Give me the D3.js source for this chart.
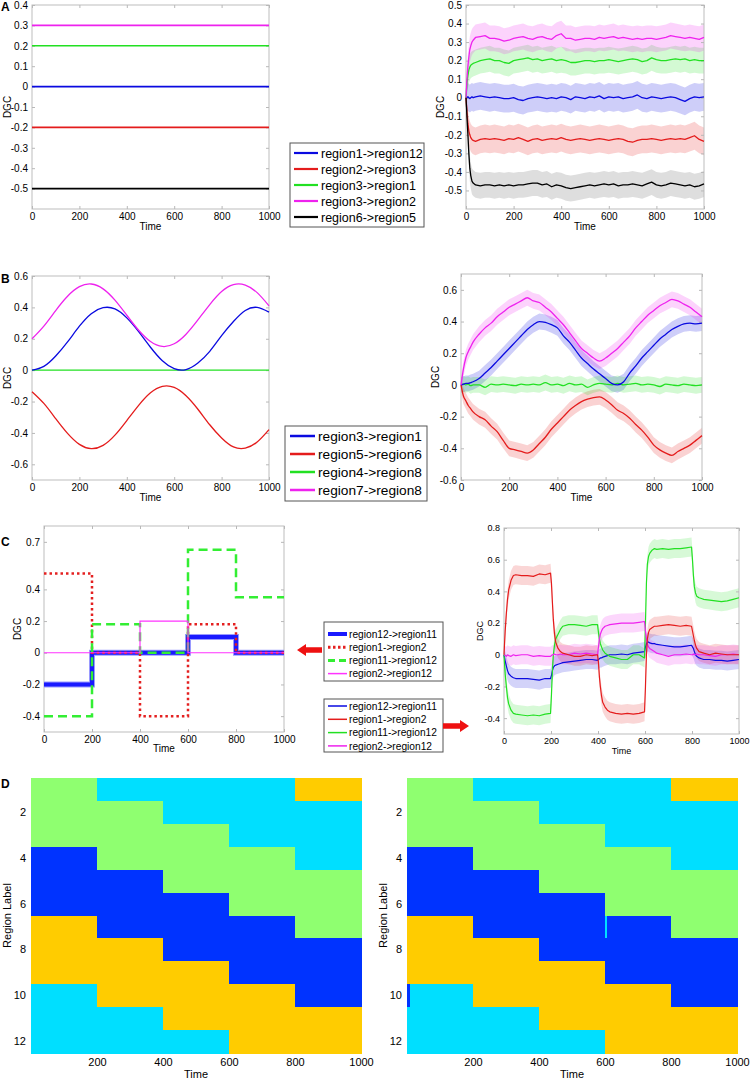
<!DOCTYPE html>
<html><head><meta charset="utf-8">
<script src="https://cdn.jsdelivr.net/npm/d3@7"></script>
<style>
body{margin:0;background:#fff;}
svg{display:block;font-family:"Liberation Sans",Arial,sans-serif;}
</style></head>
<body><svg id="c" width="750" height="1080"></svg>
<script>
// ---------------- DATA ----------------
const timeTicks = [0,200,400,600,800,1000];
const regionTicks = [2,4,6,8,10,12];
const heatTimeTicks = [200,400,600,800,1000];

// Panel A
const aNames = ["region1->region12","region2->region3","region3->region1","region3->region2","region6->region5"];
const aTrue = [0,-0.2,0.2,0.3,-0.5];
const aLeftTicks = [0.4,0.3,0.2,0.1,0,-0.1,-0.2,-0.3,-0.4,-0.5];
const aRightTicks = [0.5,0.4,0.3,0.2,0.1,0,-0.1,-0.2,-0.3,-0.4,-0.5];
const aTime = [0,4,8,12,16,20,25,30,40,60,80,100,120,140,160,180,200,220,240,260,280,300,320,340,360,380,400,420,440,460,480,500,520,540,560,580,600,620,640,660,680,700,720,740,760,780,800,820,840,860,880,900,920,940,960,980,1000];
const aEstBlue = [0,0,0.005,0,-0.005,0,0.005,0,0.005,0.01,0.005,0,0.005,0,-0.005,-0.005,0,-0.01,-0.015,-0.005,0,0.005,0,-0.005,0,-0.005,0.005,0,-0.01,0.005,0,-0.005,0.005,0,0.01,-0.005,0.005,0,0.005,-0.005,0,0.005,0.015,0,-0.005,0.005,0,-0.005,0,0.005,0,-0.01,-0.02,-0.005,0.005,0,0.005];
const aEstRed = [0,-0.08,-0.14,-0.18,-0.2,-0.215,-0.225,-0.23,-0.235,-0.225,-0.22,-0.225,-0.22,-0.225,-0.23,-0.22,-0.225,-0.215,-0.225,-0.235,-0.225,-0.22,-0.23,-0.225,-0.22,-0.225,-0.215,-0.225,-0.23,-0.225,-0.22,-0.225,-0.23,-0.225,-0.22,-0.225,-0.23,-0.225,-0.22,-0.225,-0.235,-0.24,-0.23,-0.225,-0.225,-0.22,-0.225,-0.23,-0.225,-0.22,-0.225,-0.22,-0.225,-0.215,-0.205,-0.225,-0.235];
const aEstGreen = [0,0.08,0.12,0.15,0.165,0.175,0.18,0.185,0.19,0.2,0.205,0.21,0.2,0.2,0.19,0.185,0.2,0.205,0.21,0.215,0.205,0.21,0.2,0.205,0.21,0.2,0.205,0.2,0.19,0.19,0.195,0.2,0.2,0.195,0.2,0.2,0.205,0.2,0.195,0.2,0.205,0.21,0.205,0.195,0.2,0.215,0.205,0.2,0.2,0.205,0.21,0.205,0.21,0.2,0.205,0.2,0.2];
const aEstMagenta = [0,0.1,0.17,0.22,0.26,0.28,0.3,0.31,0.325,0.33,0.335,0.32,0.32,0.315,0.305,0.31,0.32,0.325,0.33,0.32,0.315,0.325,0.33,0.32,0.315,0.335,0.345,0.32,0.32,0.31,0.315,0.32,0.32,0.315,0.325,0.32,0.325,0.33,0.32,0.325,0.32,0.315,0.32,0.315,0.32,0.32,0.315,0.32,0.325,0.335,0.33,0.325,0.32,0.325,0.32,0.315,0.325];
const aEstBlack = [0,-0.1,-0.2,-0.3,-0.38,-0.42,-0.45,-0.46,-0.47,-0.475,-0.47,-0.47,-0.475,-0.47,-0.475,-0.47,-0.475,-0.47,-0.47,-0.465,-0.46,-0.46,-0.47,-0.465,-0.48,-0.47,-0.475,-0.485,-0.49,-0.485,-0.48,-0.475,-0.47,-0.475,-0.47,-0.465,-0.47,-0.465,-0.475,-0.47,-0.47,-0.465,-0.47,-0.475,-0.465,-0.455,-0.47,-0.475,-0.47,-0.46,-0.465,-0.47,-0.475,-0.47,-0.48,-0.475,-0.465];
const aSpread = [0.075,0.075,0.07,0.07,0.07];

// Panel B
const bNames = ["region3->region1","region5->region6","region4->region8","region7->region8"];
const bTicks = [0.6,0.4,0.2,0,-0.2,-0.4,-0.6];
const bTrueTime = [0,50,100,150,200,250,300,350,400,450,500,550,600,650,700,750,800,850,900,950,1000];
const bTrueBlue = [0,0.024,0.09,0.18,0.28,0.36,0.398,0.39,0.333,0.245,0.146,0.06,0.01,0.004,0.046,0.12,0.22,0.31,0.38,0.40,0.37];
const bTrueRed = [-0.137,-0.212,-0.309,-0.403,-0.473,-0.5,-0.479,-0.414,-0.321,-0.224,-0.144,-0.103,-0.11,-0.163,-0.249,-0.348,-0.432,-0.489,-0.497,-0.458,-0.379];
const bTrueGreen = [0,0,0,0,0,0,0,0,0,0,0,0,0,0,0,0,0,0,0,0,0];
const bTrueMagenta = [0.2,0.281,0.38,0.471,0.532,0.549,0.518,0.446,0.35,0.254,0.182,0.151,0.168,0.229,0.32,0.418,0.501,0.545,0.542,0.494,0.41];
const bTime = [0,10,20,30,40,50,75,100,125,150,175,200,225,250,275,300,325,350,375,400,425,450,475,500,525,550,575,600,625,650,675,700,725,750,775,800,825,850,875,900,925,950,975,1000];
const bEstBlue = [0,0.005,0.01,0.01,0.015,0.02,0.04,0.075,0.11,0.15,0.19,0.23,0.27,0.31,0.35,0.38,0.40,0.395,0.38,0.36,0.31,0.27,0.22,0.17,0.135,0.10,0.07,0.04,0.01,0.0,0.02,0.075,0.12,0.17,0.21,0.25,0.29,0.32,0.35,0.37,0.385,0.39,0.385,0.39];
const bEstRed = [0,-0.07,-0.1,-0.13,-0.15,-0.17,-0.2,-0.22,-0.26,-0.295,-0.35,-0.4,-0.41,-0.42,-0.43,-0.41,-0.37,-0.33,-0.28,-0.24,-0.2,-0.16,-0.13,-0.105,-0.09,-0.08,-0.075,-0.095,-0.125,-0.16,-0.18,-0.21,-0.25,-0.285,-0.33,-0.38,-0.41,-0.43,-0.445,-0.42,-0.4,-0.38,-0.35,-0.32];
const bEstGreen = [0,0.005,0,0.005,-0.005,0,0,-0.015,0.005,0,0.005,0,-0.005,0.005,0,0.005,0,0.015,0,0.005,-0.005,0.01,0,0.005,-0.015,0,0.01,0.005,0,0.01,0,0.005,0.01,0,0.005,0,-0.01,0.005,0,-0.005,0.005,0,-0.005,0];
const bEstMagenta = [0,0.1,0.17,0.21,0.24,0.27,0.32,0.36,0.39,0.43,0.46,0.49,0.51,0.53,0.55,0.53,0.52,0.49,0.46,0.42,0.38,0.33,0.28,0.23,0.2,0.17,0.15,0.17,0.2,0.23,0.27,0.31,0.36,0.40,0.44,0.47,0.50,0.52,0.54,0.53,0.51,0.49,0.46,0.43];
const bSpread = [0.05,0.05,0.05,0.05];

// Panel C
const cNames = ["region12->region11","region1->region2","region11->region12","region2->region12"];
const cLeftTicks = [0.7,0.4,0.2,0,-0.2,-0.4];
const cRightTicks = [0.8,0.6,0.4,0.2,0,-0.2,-0.4];
const cStepTime = [0,200,400,600,800,1000];
const cTrueBlue = [-0.2,0,0,0.1,0,0];
const cTrueRed = [0.5,0,-0.4,0.18,0,0];
const cTrueGreen = [-0.4,0.18,0,0.65,0.35,0.35];
const cTrueMagenta = [0,0,0.2,0,0,0];
const cTime = [0,5,10,15,20,30,40,50,75,100,125,150,175,198,202,206,210,215,220,230,240,250,275,300,325,350,375,398,402,406,410,415,420,430,440,450,475,500,525,550,575,598,602,606,610,615,620,630,640,650,675,700,725,750,775,798,802,806,810,815,820,830,840,850,875,900,925,950,975,1000];
const cEstBlue = [0,-0.04,-0.07,-0.1,-0.12,-0.135,-0.145,-0.15,-0.15,-0.15,-0.155,-0.16,-0.15,-0.15,-0.13,-0.1,-0.08,-0.07,-0.065,-0.06,-0.055,-0.05,-0.045,-0.04,-0.035,-0.03,-0.03,-0.035,-0.03,-0.025,-0.02,-0.02,-0.015,-0.01,-0.005,0,0,0.005,0,0.01,0.015,0.02,0.05,0.07,0.08,0.08,0.075,0.07,0.07,0.065,0.06,0.055,0.05,0.05,0.055,0.06,0.05,0.04,0.02,0,-0.01,-0.02,-0.025,-0.03,-0.03,-0.035,-0.035,-0.04,-0.035,-0.03];
const cEstRed = [0,0.15,0.26,0.35,0.41,0.47,0.5,0.505,0.5,0.5,0.495,0.51,0.505,0.515,0.45,0.33,0.22,0.13,0.08,0.04,0.02,0.01,0,-0.01,-0.01,0,-0.005,0,-0.05,-0.14,-0.2,-0.26,-0.3,-0.33,-0.35,-0.36,-0.37,-0.375,-0.37,-0.375,-0.37,-0.36,-0.2,0,0.1,0.14,0.16,0.17,0.18,0.18,0.185,0.19,0.185,0.18,0.185,0.18,0.15,0.12,0.09,0.06,0.04,0.02,0.015,0.01,0,0.01,0.005,0,0,0];
const cEstGreen = [0,-0.12,-0.2,-0.27,-0.31,-0.35,-0.37,-0.375,-0.38,-0.385,-0.38,-0.385,-0.375,-0.37,-0.25,-0.1,0,0.06,0.1,0.13,0.16,0.18,0.19,0.19,0.185,0.18,0.19,0.19,0.14,0.1,0.07,0.05,0.03,0.01,0,-0.01,-0.02,-0.03,-0.03,0,0,-0.02,0.2,0.45,0.57,0.62,0.64,0.66,0.67,0.665,0.67,0.665,0.67,0.67,0.675,0.68,0.6,0.5,0.43,0.39,0.37,0.36,0.355,0.35,0.345,0.34,0.335,0.34,0.35,0.36];
const cEstMagenta = [0,-0.005,-0.01,0,-0.005,-0.01,0,-0.005,0,0,-0.01,-0.005,-0.01,-0.01,-0.005,0,0,0.005,0,0,0.005,0,0,0.01,0.005,0.01,0.005,0,0.05,0.1,0.13,0.15,0.165,0.18,0.185,0.19,0.195,0.2,0.2,0.2,0.205,0.21,0.15,0.1,0.07,0.05,0.04,0.03,0.02,0.01,0,-0.01,0,0,0.005,0,0,0.005,0,0,0.005,0,0,0,-0.005,-0.01,0,0,0.005,0];
const cSpread = [0.06,0.06,0.06,0.06];

// Panel D (cluster state per region row; G=green, C=cyan, B=blue, Y=yellow)
const dLeftBins = [0,200,400,600,800,1000];
const dLeftStates = ["GCCCY","GGCCC","GGGCC","BGGGC","BBGGG","BBBGG","YBBBG","YYBBB","YYYBB","CYYYB","CCYYY","CCCYY"];
const dRightBins = [0,10,200,400,600,606,800,1000];
const dRightStates = ["GGCCCCY","GGGCCCC","GGGGCCC","BBGGGGC","BBBGGGG","BBBBGGG","YYBBCBG","YYYBBBB","YYYYBBB","BCYYYYB","CCCYYYY","CCCCYYY"];

// ---------------- STYLE / DRAW ----------------
const FONT = '"Liberation Sans", Arial, sans-serif';
const COL = {blue:"#0a0ae0", red:"#e41c1c", green:"#22e022", magenta:"#ee22ee", black:"#000000"};
const heatColors = {G:"#8fff70", C:"#00dfff", B:"#0033ff", Y:"#ffcc00"};
const svg = d3.select("#c");
const fmt = d => String(+(+d).toFixed(2));

function makePanel(xr, yd, yr){
  const x = d3.scaleLinear().domain([0,1000]).range(xr);
  const y = d3.scaleLinear().domain(yd).range(yr);
  const g = svg.append("g");
  return {x,y,g};
}
function styleAxis(sel, fs){
  sel.select(".domain").remove();
  sel.selectAll(".tick line").attr("stroke","#b8b8b8");
  sel.selectAll("text").attr("fill","#000").style("font-size",fs+"px").style("font-family",FONT);
}
function axes(p, o){
  const {x,y,g} = p;
  const [x0,x1] = x.range(), [yb,yt] = y.range();
  g.append("rect").attr("x",x0).attr("y",yt).attr("width",x1-x0).attr("height",yb-yt)
    .attr("fill","none").attr("stroke","#bdbdbd");
  g.append("g").attr("transform",`translate(0,${yb})`)
    .call(d3.axisBottom(x).tickValues(timeTicks).tickSize(-3).tickPadding(o.xpad).tickFormat(d3.format("d")))
    .call(s=>styleAxis(s,o.fs));
  g.append("g").attr("transform",`translate(0,${yt})`)
    .call(d3.axisTop(x).tickValues(timeTicks).tickSize(-3).tickFormat(""))
    .call(s=>styleAxis(s,o.fs));
  g.append("g").attr("transform",`translate(${x0},0)`)
    .call(d3.axisLeft(y).tickValues(o.yt).tickSize(-3).tickPadding(o.ypad).tickFormat(fmt))
    .call(s=>styleAxis(s,o.fs));
  g.append("g").attr("transform",`translate(${x1},0)`)
    .call(d3.axisRight(y).tickValues(o.yt).tickSize(-3).tickFormat(""))
    .call(s=>styleAxis(s,o.fs));
  g.append("text").attr("x",(x0+x1)/2).attr("y",o.xlabY).attr("text-anchor","middle")
    .style("font-size",o.fs+"px").text("Time");
  g.append("text").attr("transform",`translate(${o.ylabX},${(yb+yt)/2}) rotate(-90)`)
    .attr("text-anchor","middle").style("font-size",o.fs+"px").text("DGC");
}
function zipT(t, v){ return t.map((d,i)=>[d, v[i]]); }
function drawLine(p, t, v, color, w, dash, curve){
  const line = d3.line().x(d=>p.x(d[0])).y(d=>p.y(d[1])).curve(curve||d3.curveLinear);
  const path = p.g.append("path").datum(zipT(t,v)).attr("d",line).attr("fill","none")
    .attr("stroke",color).attr("stroke-width",w).attr("stroke-linejoin","round");
  if(dash) path.attr("stroke-dasharray",dash);
  return path;
}
function drawBand(p, t, v, hw, color, op){
  const area = d3.area().x(d=>p.x(d[0])).y0(d=>p.y(d[1]-hw)).y1(d=>p.y(d[1]+hw));
  p.g.append("path").datum(zipT(t,v)).attr("d",area).attr("fill",color).attr("fill-opacity",op);
}
function drawStep(p, t, v, color, w, dash){
  const line = d3.line().x(d=>p.x(d[0])).y(d=>p.y(d[1])).curve(d3.curveStepAfter);
  const path = p.g.append("path").datum(zipT(t,v)).attr("d",line).attr("fill","none")
    .attr("stroke",color).attr("stroke-width",w);
  if(dash) path.attr("stroke-dasharray",dash);
  return path;
}
function legend(o){
  const g = svg.append("g");
  g.append("rect").attr("x",o.x).attr("y",o.y).attr("width",o.w).attr("height",o.h)
    .attr("fill","#fff").attr("stroke","#555").attr("stroke-width",1);
  o.items.forEach((it,i)=>{
    const yy = o.y0 + i*o.dy;
    const ln = g.append("line").attr("x1",o.lx0).attr("x2",o.lx1).attr("y1",yy).attr("y2",yy)
      .attr("stroke",it.color).attr("stroke-width",it.w||2);
    if(it.dash) ln.attr("stroke-dasharray",it.dash);
    g.append("text").attr("x",o.tx).attr("y",yy).attr("dy","0.36em")
      .style("font-size",o.fs+"px").text(it.label);
  });
}
function panelLetter(t, x, y){
  svg.append("text").attr("x",x).attr("y",y).style("font-size","12px").style("font-weight","bold").text(t);
}
function arrow(xTail, xTip, y){
  const dir = Math.sign(xTip - xTail), hl = 9, sh = 2.8, hh = 6;
  const pts = [[xTail,y-sh],[xTip-dir*hl,y-sh],[xTip-dir*hl,y-hh],[xTip,y],[xTip-dir*hl,y+hh],[xTip-dir*hl,y+sh],[xTail,y+sh]];
  svg.append("path").attr("d",d3.line()(pts)+"Z").attr("fill","#ee1111");
}

// ---- Panel A ----
const aColors = [COL.blue, COL.red, COL.green, COL.magenta, COL.black];
const aEst = [aEstBlue, aEstRed, aEstGreen, aEstMagenta, aEstBlack];
const pAL = makePanel([32,269], [-0.6,0.4], [209,5]);
axes(pAL, {fs:10, xpad:4, ypad:4, yt:aLeftTicks, xlabY:230, ylabX:10.5});
aTrue.forEach((v,i)=> drawLine(pAL, [0,1000], [v,v], aColors[i], 1.6));

const pAR = makePanel([466,704], [-0.6,0.5], [209,5]);
aEst.forEach((s,i)=> drawBand(pAR, aTime, s, aSpread[i], aColors[i], i===4?0.13:0.2));
axes(pAR, {fs:10, xpad:4, ypad:4, yt:aRightTicks, xlabY:230, ylabX:443.5});
aEst.forEach((s,i)=> drawLine(pAR, aTime, s, aColors[i], 1.3));

legend({x:290,y:143,w:134,h:84,y0:153,dy:16,lx0:294,lx1:318,tx:321,fs:12.5,
  items:aNames.map((n,i)=>({label:n,color:aColors[i],w:2.2}))});

// ---- Panel B ----
const bColors = [COL.blue, COL.red, COL.green, COL.magenta];
const bTrue = [bTrueBlue, bTrueRed, bTrueGreen, bTrueMagenta];
const bEst = [bEstBlue, bEstRed, bEstGreen, bEstMagenta];
const pBL = makePanel([32,269], [-0.7,0.6], [480,276]);
axes(pBL, {fs:10, xpad:4, ypad:4, yt:bTicks, xlabY:501, ylabX:10.5});
[2,0,1,3].forEach(i=> drawLine(pBL, bTrueTime, bTrue[i], bColors[i], 1.3, null, d3.curveNatural));

const pBR = makePanel([461,702], [-0.6,0.7], [480,274]);
bEst.forEach((s,i)=> drawBand(pBR, bTime, s, bSpread[i], bColors[i], 0.2));
axes(pBR, {fs:10, xpad:4, ypad:4, yt:bTicks, xlabY:501, ylabX:438.5});
[2,1,0,3].forEach(i=> drawLine(pBR, bTime, bEst[i], bColors[i], 1.3, null, d3.curveMonotoneX));

legend({x:285,y:426,w:142,h:75,y0:436,dy:18,lx0:290,lx1:315,tx:318,fs:13.7,
  items:bNames.map((n,i)=>({label:n,color:bColors[i],w:2.5}))});

// ---- Panel C ----
const cColors = ["#1a1aff","#e42020","#33ee33","#ff33ff"];
const pCL = makePanel([44,284], [-0.5,0.8], [732,526]);
axes(pCL, {fs:10, xpad:4, ypad:4, yt:cLeftTicks, xlabY:752, ylabX:20.5});
drawStep(pCL, cStepTime, cTrueBlue, "#9a9aff", 6);
drawStep(pCL, cStepTime, cTrueBlue, cColors[0], 4);
drawStep(pCL, cStepTime, cTrueRed, cColors[1], 2.5, "2.5,3");
drawStep(pCL, cStepTime, cTrueGreen, cColors[2], 2.5, "9,5");
drawStep(pCL, cStepTime, cTrueMagenta, cColors[3], 1.2);

const cEst = [cEstBlue, cEstRed, cEstGreen, cEstMagenta];
const cLineCols = [COL.blue, COL.red, COL.green, COL.magenta];
const pCR = makePanel([504,739], [-0.5,0.8], [734,528]);
cEst.forEach((s,i)=> drawBand(pCR, cTime, s, cSpread[i], cLineCols[i], 0.18));
axes(pCR, {fs:9, xpad:4, ypad:4, yt:cRightTicks, xlabY:753.5, ylabX:483});
[0,2,3,1].forEach(i=> drawLine(pCR, cTime, cEst[i], cLineCols[i], 1.2));

legend({x:324,y:622,w:119,h:59,y0:634,dy:13.2,lx0:328,lx1:347,tx:349,fs:10.2,
  items:[{label:cNames[0],color:cColors[0],w:4},{label:cNames[1],color:cColors[1],w:3,dash:"2.5,2.5"},
         {label:cNames[2],color:cColors[2],w:3,dash:"7,4"},{label:cNames[3],color:cColors[3],w:1.5}]});
legend({x:324,y:699,w:119,h:53,y0:706,dy:13.3,lx0:328,lx1:347,tx:349,fs:10.2,
  items:cNames.map((n,i)=>({label:n,color:cLineCols[i],w:1.5}))});
arrow(322, 297, 650);
arrow(443, 469, 726);

// ---- Panel D ----
function heatmap(xr, bins, states, ylabX){
  const x = d3.scaleLinear().domain([0,1000]).range(xr);
  const y = d3.scaleBand().domain(d3.range(1,13)).range([778,1053]);
  const g = svg.append("g");
  const cells = g.append("g").attr("shape-rendering","crispEdges");
  states.forEach((row,r)=>{
    row.split("").forEach((s,j)=>{
      cells.append("rect").attr("x",x(bins[j])).attr("y",y(r+1))
        .attr("width",x(bins[j+1])-x(bins[j])+0.5).attr("height",y.bandwidth()+0.6)
        .attr("fill",heatColors[s]);
    });
  });
  g.append("g").attr("transform",`translate(0,1053)`)
    .call(d3.axisBottom(x).tickValues(heatTimeTicks).tickSize(0).tickPadding(5).tickFormat(d3.format("d")))
    .call(s=>styleAxis(s,11));
  g.append("g").attr("transform",`translate(${xr[0]},0)`)
    .call(d3.axisLeft(y).tickValues(regionTicks).tickSize(0).tickPadding(5))
    .call(s=>styleAxis(s,11));
  g.append("text").attr("x",(xr[0]+xr[1])/2).attr("y",1078).attr("text-anchor","middle")
    .style("font-size","11px").text("Time");
  g.append("text").attr("transform",`translate(${ylabX},${(778+1053)/2}) rotate(-90)`)
    .attr("text-anchor","middle").style("font-size","11px").text("Region Label");
}
heatmap([31,361], dLeftBins, dLeftStates, 11);
heatmap([407,737], dRightBins, dRightStates, 387);

panelLetter("A", 1, 11);
panelLetter("B", 1, 283);
panelLetter("C", 1, 546);
panelLetter("D", 1, 788);
</script>
</body></html>
